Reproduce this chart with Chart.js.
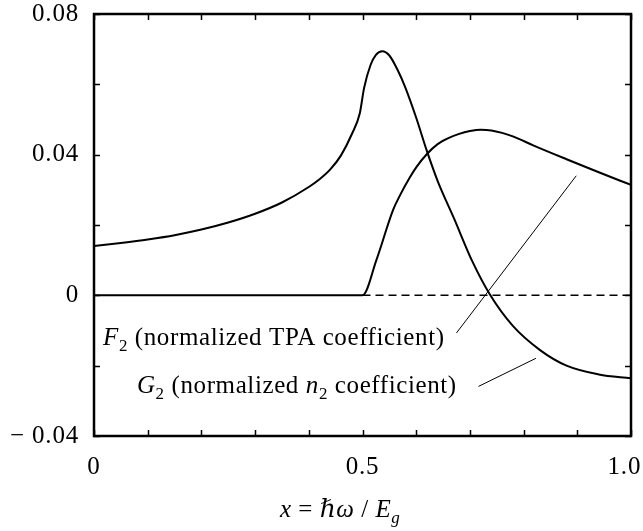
<!DOCTYPE html>
<html>
<head>
<meta charset="utf-8">
<script src="https://cdn.jsdelivr.net/npm/chart.js@4"></script>
<style>
  html, body { margin: 0; padding: 0; background: #fff; }
</style>
</head>
<body>
<canvas id="chart" width="643" height="531"></canvas>
<script>
// G2 (normalized n2 coefficient)
var g2X = [0, 0.05, 0.1, 0.15, 0.2, 0.25, 0.3, 0.35, 0.4, 0.42, 0.44, 0.46, 0.48, 0.495, 0.503, 0.515, 0.525, 0.537, 0.55, 0.565, 0.58, 0.6, 0.62, 0.64, 0.67, 0.705, 0.737, 0.78, 0.83, 0.88, 0.94, 1.0];
var g2Y = [0.0140, 0.0149, 0.0159, 0.0171, 0.0187, 0.0207, 0.0232, 0.0264, 0.0308, 0.0330, 0.0358, 0.0398, 0.0458, 0.0518, 0.0590, 0.0655, 0.0684, 0.0694, 0.0682, 0.0642, 0.0590, 0.0505, 0.0410, 0.0325, 0.0220, 0.0095, 0.0003, -0.0087, -0.0155, -0.0200, -0.0225, -0.0236];

// F2 (normalized TPA coefficient)
var f2X = [0, 0.5, 0.526, 0.557, 0.57, 0.588, 0.6, 0.62, 0.64, 0.66, 0.68, 0.7, 0.72, 0.74, 0.76, 0.78, 0.82, 0.88, 0.94, 1.0];
var f2Y = [0, 0, 0.0101, 0.0243, 0.0285, 0.0335, 0.0364, 0.0402, 0.0430, 0.0447, 0.0459, 0.0467, 0.0471, 0.0469, 0.0462, 0.0452, 0.0425, 0.0387, 0.0350, 0.0314];

// dashed zero reference
var zeroX = [0.5, 1.0];
var zeroY = [0, 0];

// tick labels (trailing en space keeps "1.0" inside the canvas like the original)
var xLabelValues = [0, 0.5, 1.0];
var xLabelText = ['0', '0.5', '1.0\u2002'];
var yLabelValues = [-0.04, 0, 0.04, 0.08];
var yLabelText = ['\u2212 0.04', '0', '0.04', '0.08'];

// label pointers (data coordinates)
var f2PointerX = [0.675, 0.898];
var f2PointerY = [-0.0107, 0.0340];
var g2PointerX = [0.716, 0.823];
var g2PointerY = [-0.0259, -0.0179];

function pts(xs, ys) {
    return xs.map(function (x, i) { return { x: x, y: ys[i] }; });
}

function labelFor(values, texts, v) {
    for (var i = 0; i < values.length; i++) {
        if (Math.abs(values[i] - v) < 1e-9) return texts[i];
    }
    return '';
}

var serif = '"Liberation Serif", "DejaVu Serif", serif';

function partFont(p) {
    return (p.italic ? 'italic ' : '') + (p.sub ? 17 : 25) + 'px ' + serif;
}

function richText(ctx, parts, x, y) {
    var cx = x;
    parts.forEach(function (p) {
        ctx.font = partFont(p);
        ctx.fillText(p.t, cx, y + (p.sub ? 6 : 0));
        cx += ctx.measureText(p.t).width;
    });
}

var framePlugin = {
    id: 'frame',
    beforeDraw: function (chart) {
        chart.ctx.letterSpacing = '0.8px';
    },
    afterDraw: function (chart) {
        var ctx = chart.ctx;
        var a = chart.chartArea;
        var xs = chart.scales.x, ys = chart.scales.y;
        ctx.save();
        ctx.strokeStyle = '#000';
        ctx.lineWidth = 1.5;
        ctx.beginPath();
        xs.ticks.forEach(function (t) {
            var px = Math.round(xs.getPixelForValue(t.value)) + 0.5;
            ctx.moveTo(px, a.bottom); ctx.lineTo(px, a.bottom - 6);
            ctx.moveTo(px, a.top); ctx.lineTo(px, a.top + 6);
        });
        ys.ticks.forEach(function (t) {
            var py = Math.round(ys.getPixelForValue(t.value)) + 0.5;
            ctx.moveTo(a.left, py); ctx.lineTo(a.left + 6, py);
            ctx.moveTo(a.right, py); ctx.lineTo(a.right - 6, py);
        });
        ctx.stroke();
        ctx.lineWidth = 2.5;
        ctx.strokeRect(a.left, a.top, a.right - a.left, a.bottom - a.top);

        ctx.fillStyle = '#000';
        ctx.textBaseline = 'alphabetic';
        ctx.textAlign = 'left';
        ctx.letterSpacing = '0.6px';
        ctx.wordSpacing = '6px';
        richText(ctx, [
            { t: 'F', italic: true }, { t: '2', sub: true },
            { t: ' (normalized TPA coefficient)' }
        ], xs.getPixelForValue(0.0168), ys.getPixelForValue(-0.0140));
        richText(ctx, [
            { t: 'G', italic: true }, { t: '2', sub: true },
            { t: ' (normalized ' }, { t: 'n', italic: true }, { t: '2', sub: true },
            { t: ' coefficient)' }
        ], xs.getPixelForValue(0.080), ys.getPixelForValue(-0.0277));

        // axis title
        ctx.letterSpacing = '0.5px';
        ctx.wordSpacing = '2px';
        richText(ctx, [
            { t: 'x', italic: true }, { t: ' = ' }, { t: '\u210F\u03C9', italic: true },
            { t: ' / ' }, { t: 'E', italic: true }, { t: 'g', italic: true, sub: true }
        ], a.left + 186, a.bottom + 81);
        ctx.restore();
    }
};

var ctx = document.getElementById('chart').getContext('2d');
var chart = new Chart(ctx, {
    type: 'scatter',
    data: {
        datasets: [
            {
                label: 'zero',
                data: pts(zeroX, zeroY),
                showLine: true,
                borderColor: '#000',
                borderWidth: 1.5,
                borderDash: [8, 5],
                pointRadius: 0
            },
            {
                label: 'F2',
                data: pts(f2X, f2Y),
                showLine: true,
                borderColor: '#000',
                borderWidth: 2,
                cubicInterpolationMode: 'monotone',
                pointRadius: 0
            },
            {
                label: 'G2',
                data: pts(g2X, g2Y),
                showLine: true,
                borderColor: '#000',
                borderWidth: 2,
                cubicInterpolationMode: 'monotone',
                pointRadius: 0
            },
            {
                label: 'F2 pointer',
                data: pts(f2PointerX, f2PointerY),
                showLine: true,
                borderColor: '#000',
                borderWidth: 1,
                pointRadius: 0
            },
            {
                label: 'G2 pointer',
                data: pts(g2PointerX, g2PointerY),
                showLine: true,
                borderColor: '#000',
                borderWidth: 1,
                pointRadius: 0
            }
        ]
    },
    options: {
        responsive: false,
        animation: false,
        layout: {
            padding: { top: 14, right: 12, left: 0, bottom: 0 }
        },
        scales: {
            x: {
                type: 'linear',
                min: 0,
                max: 1,
                afterFit: function (s) {
                    s.height = 95;
                    s.paddingLeft = 0;
                    s.paddingRight = 0;
                },
                grid: { display: false, drawTicks: false },
                border: { display: false },
                ticks: {
                    stepSize: 0.1,
                    autoSkip: false,
                    maxRotation: 0,
                    padding: 16,
                    color: '#000',
                    font: { family: serif, size: 25 },
                    callback: function (v) { return labelFor(xLabelValues, xLabelText, v); }
                }
            },
            y: {
                min: -0.04,
                max: 0.08,
                afterFit: function (s) {
                    s.width = 94;
                    s.paddingTop = 0;
                    s.paddingBottom = 0;
                },
                grid: { display: false, drawTicks: false },
                border: { display: false },
                ticks: {
                    stepSize: 0.02,
                    autoSkip: false,
                    padding: 15,
                    color: '#000',
                    font: { family: serif, size: 25 },
                    callback: function (v) { return labelFor(yLabelValues, yLabelText, v); }
                }
            }
        },
        plugins: {
            legend: { display: false },
            tooltip: { enabled: false }
        }
    },
    plugins: [framePlugin]
});
</script>
</body>
</html>
